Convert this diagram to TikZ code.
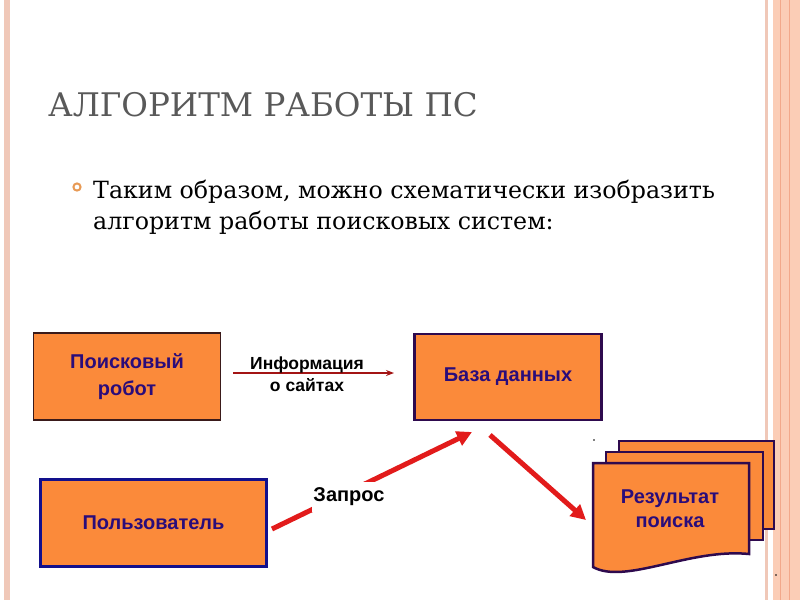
\documentclass[tikz,border=0pt]{standalone}
\usepackage{fontspec}
\setmainfont{DejaVu Serif}
\newfontfamily\lsans{Liberation Sans}
\usetikzlibrary{arrows.meta}
\definecolor{boxorange}{HTML}{FB8A3A}
\definecolor{boxtext}{HTML}{2A0C7A}
\definecolor{titlegray}{HTML}{595959}
\definecolor{arrowred}{HTML}{E21B1B}
\definecolor{infored}{HTML}{A31414}
\definecolor{edgepurple}{HTML}{2E0A4E}
\definecolor{edgedark}{HTML}{3A1A1A}
\definecolor{edgeblue}{HTML}{12108C}
\definecolor{bandpink}{HTML}{FBCDB6}
\definecolor{bandline}{HTML}{F2A88A}
\definecolor{leftpink}{HTML}{F0C8B8}
\definecolor{bulletorange}{HTML}{E89A55}
\begin{document}
\begin{tikzpicture}[x=1pt,y=-1pt,
  box/.style={draw, fill=boxorange, inner sep=0pt, align=center, text=boxtext,
    font=\lsans\bfseries\fontsize{20}{27}\selectfont},
  doc/.style={fill=boxorange, draw=edgepurple, line width=2.5pt, line join=miter},
  bigarrow/.style={draw=arrowred, line width=5pt, -{Triangle[length=15pt,width=15pt]}},
  infoarrow/.style={draw=infored, line width=1.3pt, -{Stealth[length=8pt,width=6pt]}},
  lbl/.style={inner sep=0pt, align=center, font=\lsans\bfseries\fontsize{17.5}{22}\selectfont},
  bodytext/.style={anchor=base west, inner sep=0pt, font=\fontsize{23.7}{31}\selectfont}]
\useasboundingbox (0,0) rectangle (800,600);
\fill[white] (0,0) rectangle (800,600);
% side bands
\fill[leftpink] (4,0) rectangle (10,600);
\fill[leftpink] (765,0) rectangle (767.5,600);
\fill[bandpink] (773,0) rectangle (800,600);
\draw[bandline, line width=1pt] (780,0) -- (780,600);
\draw[bandline, line width=1pt] (789,0) -- (789,600);
% title and bullet
\node[anchor=base west, inner sep=0pt, text=titlegray, font=\fontsize{32.5}{40}\selectfont] (title) at (48,116) {АЛГОРИТМ РАБОТЫ ПС};
\draw[bulletorange, line width=2pt] (77,187) circle[radius=3.6pt];
\node[bodytext] (body1) at (93,198) {Таким образом, можно схематически изобразить};
\node[bodytext] (body2) at (93,229) {алгоритм работы поисковых систем:};
% boxes
\node[box, draw=edgedark, line width=1.3pt, minimum width=187pt, minimum height=87pt] (robot) at (127,376.5) {Поисковый\\робот};
\node[box, draw=edgepurple, line width=2.2pt, minimum width=187pt, minimum height=86pt] (db) at (508,377) {База данных};
\node[box, draw=edgeblue, line width=3pt, minimum width=226pt, minimum height=87pt] (user) at (153.5,523) {Пользователь};
% result documents
\filldraw[doc] (619,441) rectangle (774,529);
\filldraw[doc] (606,452) rectangle (763,540);
\filldraw[doc] (593,463) -- (749,463) -- (749,554) .. controls (690,548) and (625,585) .. (593,567) -- cycle;
\node[box, draw=none, fill=none, font=\lsans\bfseries\fontsize{20}{24}\selectfont] (res) at (670,509) {Результат\\поиска};
% connectors
\coordinate (i1) at (233,373);
\coordinate (i2) at (394,373);
\draw[infoarrow] (i1) -- (i2);
\node[lbl] (info) at (307,374) {Информация\\о сайтах};
\coordinate (q1) at (272,529);
\coordinate (q2) at (472,432);
\draw[bigarrow] (q1) -- (q2);
\node[fill=white, inner xsep=1pt, inner ysep=0pt, minimum height=30pt, font=\lsans\bfseries\fontsize{20}{22}\selectfont] (zapros) at (349,497) {Запрос};
\coordinate (r1) at (490,435);
\coordinate (r2) at (586,520);
\draw[bigarrow] (r1) -- (r2);
% stray dots
\fill (594,440) circle[radius=0.8pt];
\fill (776,575) circle[radius=0.8pt];
\end{tikzpicture}
\end{document}
